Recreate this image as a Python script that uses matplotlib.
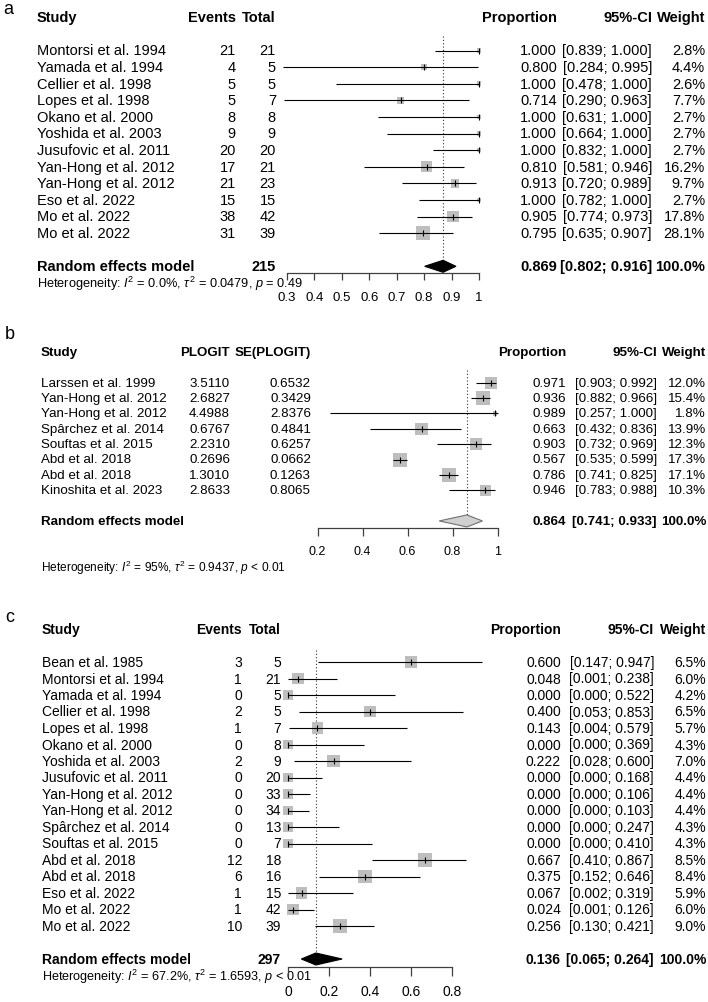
import matplotlib
matplotlib.use("Agg")
import matplotlib.pyplot as plt
import matplotlib.transforms as mtransforms
from matplotlib.patches import Polygon
import numpy as np

plt.rcParams['font.family'] = ['Liberation Sans', 'DejaVu Sans']
plt.rcParams['mathtext.fontset'] = 'custom'
plt.rcParams['mathtext.rm'] = 'Liberation Sans'
plt.rcParams['mathtext.it'] = 'Liberation Sans:italic'
plt.rcParams['mathtext.bf'] = 'Liberation Sans:bold'

# ---------------- data: panel a ----------------
studies_a = ["Montorsi et al. 1994", "Yamada et al. 1994", "Cellier et al. 1998", "Lopes et al. 1998",
             "Okano et al. 2000", "Yoshida et al. 2003", "Jusufovic et al. 2011", "Yan-Hong et al. 2012",
             "Yan-Hong et al. 2012", "Eso et al. 2022", "Mo et al. 2022", "Mo et al. 2022"]
events_a = [21, 4, 5, 5, 8, 9, 20, 17, 21, 15, 38, 31]
totals_a = [21, 5, 5, 7, 8, 9, 20, 21, 23, 15, 42, 39]
prop_a = [1.000, 0.800, 1.000, 0.714, 1.000, 1.000, 1.000, 0.810, 0.913, 1.000, 0.905, 0.795]
lo_a = [0.839, 0.284, 0.478, 0.290, 0.631, 0.664, 0.832, 0.581, 0.720, 0.782, 0.774, 0.635]
hi_a = [1.000, 0.995, 1.000, 0.963, 1.000, 1.000, 1.000, 0.946, 0.989, 1.000, 0.973, 0.907]
weight_a = [2.8, 4.4, 2.6, 7.7, 2.7, 2.7, 2.7, 16.2, 9.7, 2.7, 17.8, 28.1]
re_a = (0.869, 0.802, 0.916)
total_a = 215
ticks_a = [0.3, 0.4, 0.5, 0.6, 0.7, 0.8, 0.9, 1.0]
ticklabels_a = ["0.3", "0.4", "0.5", "0.6", "0.7", "0.8", "0.9", "1"]
het_a = r"Heterogeneity: $I^2$ = 0.0%, $\tau^2$ = 0.0479, $p$ = 0.49"

# ---------------- data: panel b ----------------
studies_b = ["Larssen et al. 1999", "Yan-Hong et al. 2012", "Yan-Hong et al. 2012", "Spârchez et al. 2014",
             "Souftas et al. 2015", "Abd et al. 2018", "Abd et al. 2018", "Kinoshita et al. 2023"]
plogit_b = [3.5110, 2.6827, 4.4988, 0.6767, 2.2310, 0.2696, 1.3010, 2.8633]
se_b = [0.6532, 0.3429, 2.8376, 0.4841, 0.6257, 0.0662, 0.1263, 0.8065]
prop_b = [0.971, 0.936, 0.989, 0.663, 0.903, 0.567, 0.786, 0.946]
lo_b = [0.903, 0.882, 0.257, 0.432, 0.732, 0.535, 0.741, 0.783]
hi_b = [0.992, 0.966, 1.000, 0.836, 0.969, 0.599, 0.825, 0.988]
weight_b = [12.0, 15.4, 1.8, 13.9, 12.3, 17.3, 17.1, 10.3]
re_b = (0.864, 0.741, 0.933)
ticks_b = [0.2, 0.4, 0.6, 0.8, 1.0]
ticklabels_b = ["0.2", "0.4", "0.6", "0.8", "1"]
het_b = r"Heterogeneity: $I^2$ = 95%, $\tau^2$ = 0.9437, $p$ < 0.01"

# ---------------- data: panel c ----------------
studies_c = ["Bean et al. 1985", "Montorsi et al. 1994", "Yamada et al. 1994", "Cellier et al. 1998",
             "Lopes et al. 1998", "Okano et al. 2000", "Yoshida et al. 2003", "Jusufovic et al. 2011",
             "Yan-Hong et al. 2012", "Yan-Hong et al. 2012", "Spârchez et al. 2014", "Souftas et al. 2015",
             "Abd et al. 2018", "Abd et al. 2018", "Eso et al. 2022", "Mo et al. 2022", "Mo et al. 2022"]
events_c = [3, 1, 0, 2, 1, 0, 2, 0, 0, 0, 0, 0, 12, 6, 1, 1, 10]
totals_c = [5, 21, 5, 5, 7, 8, 9, 20, 33, 34, 13, 7, 18, 16, 15, 42, 39]
prop_c = [0.600, 0.048, 0.000, 0.400, 0.143, 0.000, 0.222, 0.000, 0.000, 0.000, 0.000, 0.000,
          0.667, 0.375, 0.067, 0.024, 0.256]
lo_c = [0.147, 0.001, 0.000, 0.053, 0.004, 0.000, 0.028, 0.000, 0.000, 0.000, 0.000, 0.000,
        0.410, 0.152, 0.002, 0.001, 0.130]
hi_c = [0.947, 0.238, 0.522, 0.853, 0.579, 0.369, 0.600, 0.168, 0.106, 0.103, 0.247, 0.410,
        0.867, 0.646, 0.319, 0.126, 0.421]
weight_c = [6.5, 6.0, 4.2, 6.5, 5.7, 4.3, 7.0, 4.4, 4.4, 4.4, 4.3, 4.3, 8.5, 8.4, 5.9, 6.0, 9.0]
re_c = (0.136, 0.065, 0.264)
total_c = 297
ticks_c = [0.0, 0.2, 0.4, 0.6, 0.8]
ticklabels_c = ["0", "0.2", "0.4", "0.6", "0.8"]
het_c = r"Heterogeneity: $I^2$ = 67.2%, $\tau^2$ = 1.6593, $p$ < 0.01"

# ---------------- figure ----------------
W, H = 708, 1003
DPI = 100
fig = plt.figure(figsize=(W / DPI, H / DPI), dpi=DPI)
fig.patch.set_facecolor("white")
ov = fig.add_axes([0, 0, 1, 1])
ov.set_xlim(0, W)
ov.set_ylim(H, 0)
ov.set_axis_off()
ov.patch.set_visible(False)

SQ_COL = "#BEBEBE"
LINE_COL = "black"
AX_COL = "#404040"
PX2PT = 72.0 / DPI


def forest_axes(px0, v0, px1, v1, row0_px, spacing, top_px, bottom_px):
    ax = fig.add_axes([px0 / W, 1 - bottom_px / H, (px1 - px0) / W, (bottom_px - top_px) / H])
    ax.set_xlim(v0, v1)
    ax.set_ylim((bottom_px - row0_px) / spacing, (top_px - row0_px) / spacing)
    ax.patch.set_visible(False)
    for sp in ["top", "left", "right"]:
        ax.spines[sp].set_visible(False)
    ax.spines["bottom"].set_color(AX_COL)
    ax.spines["bottom"].set_linewidth(0.9)
    ax.yaxis.set_visible(False)
    return ax


def txt(ax, xpx, row, s, ha="left", bold=False, size=10.4):
    tr = mtransforms.blended_transform_factory(ov.transData, ax.transData)
    ov.text(xpx, row, s, transform=tr, ha=ha, va="center", fontsize=size,
            fontweight="bold" if bold else "normal", color="black", clip_on=False)


def draw_marks(ax, est, lo, hi, w, maxsq_px):
    rows = np.arange(len(est))
    w = np.asarray(w, float)
    side_px = maxsq_px * np.sqrt(w / w.max())
    ax.scatter(est, rows, s=(side_px * PX2PT) ** 2, marker="s", color=SQ_COL,
               linewidths=0, zorder=2, clip_on=False)
    ax.hlines(rows, lo, hi, color=LINE_COL, lw=0.8, zorder=3, clip_on=False)
    ax.plot(est, rows, linestyle="none", marker="|", ms=4, mew=0.8, color=LINE_COL,
            zorder=4, clip_on=False)


def diamond(ax, re, row, half_h_rows, face, edge):
    est, lo, hi = re
    poly = Polygon([(lo, row), (est, row - half_h_rows), (hi, row), (est, row + half_h_rows)],
                   closed=True, facecolor=face, edgecolor=edge, lw=0.8, zorder=5, clip_on=False)
    ax.add_patch(poly)


def axis_ticks(ax, ticks, labels, size, pad, length):
    ax.set_xticks(ticks)
    ax.set_xticklabels(labels)
    ax.spines["bottom"].set_bounds(ticks[0], ticks[-1])
    ax.tick_params(axis="x", direction="out", length=length * PX2PT, width=0.9, colors=AX_COL,
                   labelcolor="black", labelsize=size, pad=pad * PX2PT)


# ================= panel a =================
fs_a = 10.5
y0_a, s_a = 51.5, 16.6
n_a = len(studies_a)
re_row_a = n_a + 1
ax_a = forest_axes(287, 0.3, 479, 1.0, y0_a, s_a, 20, 274)
draw_marks(ax_a, prop_a, lo_a, hi_a, weight_a, 14.5)
ax_a.vlines(re_a[0], -0.9, re_row_a - 0.4, colors="#333333", linestyles=(0, (1, 2)), lw=0.8, zorder=1)
diamond(ax_a, re_a, re_row_a, 6.0 / s_a, "black", "black")
axis_ticks(ax_a, ticks_a, ticklabels_a, 9.5, 11, 7)

txt(ax_a, 37, -2, "Study", bold=True, size=fs_a)
txt(ax_a, 236, -2, "Events", ha="right", bold=True, size=fs_a)
txt(ax_a, 276, -2, "Total", ha="right", bold=True, size=fs_a)
txt(ax_a, 557, -2, "Proportion", ha="right", bold=True, size=fs_a)
txt(ax_a, 652, -2, "95%-CI", ha="right", bold=True, size=fs_a)
txt(ax_a, 705, -2, "Weight", ha="right", bold=True, size=fs_a)
for i in range(n_a):
    txt(ax_a, 37, i, studies_a[i], size=fs_a)
    txt(ax_a, 236, i, str(events_a[i]), ha="right", size=fs_a)
    txt(ax_a, 276, i, str(totals_a[i]), ha="right", size=fs_a)
    txt(ax_a, 557, i, f"{prop_a[i]:.3f}", ha="right", size=fs_a)
    txt(ax_a, 652, i, f"[{lo_a[i]:.3f}; {hi_a[i]:.3f}]", ha="right", size=fs_a)
    txt(ax_a, 705, i, f"{weight_a[i]:.1f}%", ha="right", size=fs_a)
txt(ax_a, 37, re_row_a, "Random effects model", bold=True, size=fs_a)
txt(ax_a, 276, re_row_a, str(total_a), ha="right", bold=True, size=fs_a)
txt(ax_a, 557, re_row_a, f"{re_a[0]:.3f}", ha="right", bold=True, size=fs_a)
txt(ax_a, 652, re_row_a, f"[{re_a[1]:.3f}; {re_a[2]:.3f}]", ha="right", bold=True, size=fs_a)
txt(ax_a, 705, re_row_a, "100.0%", ha="right", bold=True, size=fs_a)
txt(ax_a, 37, re_row_a + 1, het_a, size=9.2)
ov.text(3, 9, "a", fontsize=13, ha="left", va="center")

# ================= panel b =================
fs_b = 9.6
y0_b, s_b = 383.7, 15.36
n_b = len(studies_b)
re_row_b = n_b + 1
ax_b = forest_axes(317.5, 0.2, 497.5, 1.0, y0_b, s_b, 360, 529)
draw_marks(ax_b, prop_b, lo_b, hi_b, weight_b, 14.0)
ax_b.vlines(re_b[0], -0.8, re_row_b - 0.4, colors="#333333", linestyles=(0, (1, 2)), lw=0.8, zorder=1)
diamond(ax_b, re_b, re_row_b, 6.0 / s_b, "#D0D0D0", "#707070")
axis_ticks(ax_b, ticks_b, ticklabels_b, 9.0, 9, 8)

txt(ax_b, 41, -2, "Study", bold=True, size=fs_b)
txt(ax_b, 230, -2, "PLOGIT", ha="right", bold=True, size=fs_b)
txt(ax_b, 311, -2, "SE(PLOGIT)", ha="right", bold=True, size=fs_b)
txt(ax_b, 566, -2, "Proportion", ha="right", bold=True, size=fs_b)
txt(ax_b, 657, -2, "95%-CI", ha="right", bold=True, size=fs_b)
txt(ax_b, 706, -2, "Weight", ha="right", bold=True, size=fs_b)
for i in range(n_b):
    txt(ax_b, 41, i, studies_b[i], size=fs_b)
    txt(ax_b, 230, i, f"{plogit_b[i]:.4f}", ha="right", size=fs_b)
    txt(ax_b, 311, i, f"{se_b[i]:.4f}", ha="right", size=fs_b)
    txt(ax_b, 566, i, f"{prop_b[i]:.3f}", ha="right", size=fs_b)
    txt(ax_b, 657, i, f"[{lo_b[i]:.3f}; {hi_b[i]:.3f}]", ha="right", size=fs_b)
    txt(ax_b, 706, i, f"{weight_b[i]:.1f}%", ha="right", size=fs_b)
txt(ax_b, 41, re_row_b, "Random effects model", bold=True, size=fs_b)
txt(ax_b, 566, re_row_b, f"{re_b[0]:.3f}", ha="right", bold=True, size=fs_b)
txt(ax_b, 657, re_row_b, f"[{re_b[1]:.3f}; {re_b[2]:.3f}]", ha="right", bold=True, size=fs_b)
txt(ax_b, 706, re_row_b, "100.0%", ha="right", bold=True, size=fs_b)
txt(ax_b, 41, re_row_b + 3, het_b, size=8.6)
ov.text(5, 334, "b", fontsize=13, ha="left", va="center")

# ================= panel c =================
fs_c = 10.0
y0_c, s_c = 663.0, 16.5
n_c = len(studies_c)
re_row_c = n_c + 1
ax_c = forest_axes(288, 0.0, 452, 0.8, y0_c, s_c, 640, 968)
draw_marks(ax_c, prop_c, lo_c, hi_c, weight_c, 14.0)
ax_c.vlines(re_c[0], -0.7, re_row_c - 0.4, colors="#333333", linestyles=(0, (1, 2)), lw=0.8, zorder=1)
diamond(ax_c, re_c, re_row_c, 6.0 / s_c, "black", "black")
axis_ticks(ax_c, ticks_c, ticklabels_c, 10.0, 8, 9)

txt(ax_c, 42, -2, "Study", bold=True, size=fs_c)
txt(ax_c, 242, -2, "Events", ha="right", bold=True, size=fs_c)
txt(ax_c, 281, -2, "Total", ha="right", bold=True, size=fs_c)
txt(ax_c, 561, -2, "Proportion", ha="right", bold=True, size=fs_c)
txt(ax_c, 654, -2, "95%-CI", ha="right", bold=True, size=fs_c)
txt(ax_c, 706, -2, "Weight", ha="right", bold=True, size=fs_c)
for i in range(n_c):
    txt(ax_c, 42, i, studies_c[i], size=fs_c)
    txt(ax_c, 242, i, str(events_c[i]), ha="right", size=fs_c)
    txt(ax_c, 281, i, str(totals_c[i]), ha="right", size=fs_c)
    txt(ax_c, 561, i, f"{prop_c[i]:.3f}", ha="right", size=fs_c)
    txt(ax_c, 654, i, f"[{lo_c[i]:.3f}; {hi_c[i]:.3f}]", ha="right", size=fs_c)
    txt(ax_c, 706, i, f"{weight_c[i]:.1f}%", ha="right", size=fs_c)
txt(ax_c, 42, re_row_c, "Random effects model", bold=True, size=fs_c)
txt(ax_c, 281, re_row_c, str(total_c), ha="right", bold=True, size=fs_c)
txt(ax_c, 561, re_row_c, f"{re_c[0]:.3f}", ha="right", bold=True, size=fs_c)
txt(ax_c, 654, re_row_c, f"[{re_c[1]:.3f}; {re_c[2]:.3f}]", ha="right", bold=True, size=fs_c)
txt(ax_c, 706, re_row_c, "100.0%", ha="right", bold=True, size=fs_c)
txt(ax_c, 42, re_row_c + 1, het_c, size=9.1)
ov.text(5, 617, "c", fontsize=13, ha="left", va="center")

fig.savefig("out.png", dpi=DPI, facecolor="white")
